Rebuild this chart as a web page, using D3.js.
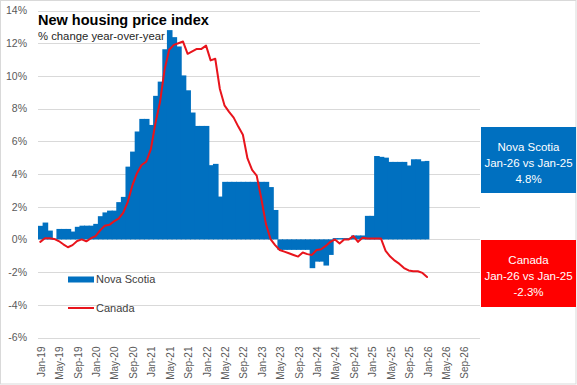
<!DOCTYPE html>
<html>
<head>
<meta charset="utf-8">
<script src="https://cdn.jsdelivr.net/npm/d3@7"></script>
<style>
  html, body { margin: 0; padding: 0; background: #fff; }
  svg { display: block; font-family: "Liberation Sans", Arial, sans-serif; }
</style>
</head>
<body>
<svg id="chart" width="577" height="385"></svg>
<script>
// ---- data ----
const months = [
  "Jan-19","Feb-19","Mar-19","Apr-19","May-19","Jun-19","Jul-19","Aug-19","Sep-19","Oct-19","Nov-19","Dec-19",
  "Jan-20","Feb-20","Mar-20","Apr-20","May-20","Jun-20","Jul-20","Aug-20","Sep-20","Oct-20","Nov-20","Dec-20",
  "Jan-21","Feb-21","Mar-21","Apr-21","May-21","Jun-21","Jul-21","Aug-21","Sep-21","Oct-21","Nov-21","Dec-21",
  "Jan-22","Feb-22","Mar-22","Apr-22","May-22","Jun-22","Jul-22","Aug-22","Sep-22","Oct-22","Nov-22","Dec-22",
  "Jan-23","Feb-23","Mar-23","Apr-23","May-23","Jun-23","Jul-23","Aug-23","Sep-23","Oct-23","Nov-23","Dec-23",
  "Jan-24","Feb-24","Mar-24","Apr-24","May-24","Jun-24","Jul-24","Aug-24","Sep-24","Oct-24","Nov-24","Dec-24",
  "Jan-25","Feb-25","Mar-25","Apr-25","May-25","Jun-25","Jul-25","Aug-25","Sep-25","Oct-25","Nov-25","Dec-25",
  "Jan-26","Feb-26","Mar-26","Apr-26","May-26","Jun-26","Jul-26","Aug-26","Sep-26","Oct-26","Nov-26","Dec-26"
];
const xTickLabels = ["Jan-19","May-19","Sep-19","Jan-20","May-20","Sep-20","Jan-21","May-21","Sep-21",
  "Jan-22","May-22","Sep-22","Jan-23","May-23","Sep-23","Jan-24","May-24","Sep-24","Jan-25","May-25",
  "Sep-25","Jan-26","May-26","Sep-26"];
const yTicks = [-6,-4,-2,0,2,4,6,8,10,12,14];

// Nova Scotia, Jan-19 .. Jan-26 (% y/y)
const novaScotia = [
  0.83,1.03,0.54,0.05,0.64,0.64,0.64,0.48,0.77,0.84,0.84,0.84,
  0.95,1.42,1.65,1.76,1.76,2.28,2.60,4.45,5.37,6.60,7.37,7.37,
  7.00,8.78,9.65,11.63,12.80,12.37,11.80,10.03,9.12,7.76,6.94,6.94,
  6.94,4.54,4.62,2.62,3.52,3.52,3.52,3.52,3.52,3.52,3.52,3.52,
  3.52,3.52,3.20,1.80,-0.64,-0.64,-0.64,-0.64,-0.64,-0.64,-0.64,-1.76,
  -1.36,-1.36,-1.60,-0.95,0.08,0.08,0.08,0.08,0.24,0.24,0.24,1.44,
  1.44,5.10,5.05,5.00,4.74,4.74,4.74,4.74,4.52,4.90,4.90,4.78,
  4.80
];
// Canada, Jan-19 .. Jan-26 (% y/y)
const canada = [
  -0.15,0.07,0.07,0.03,-0.10,-0.30,-0.48,-0.35,-0.10,0.00,-0.12,0.07,
  0.20,0.55,0.83,0.89,1.10,1.27,1.62,2.30,3.30,4.05,4.55,4.75,
  5.50,7.10,8.40,10.40,11.60,11.90,12.00,12.10,11.35,11.50,11.65,11.65,
  11.85,10.95,11.05,9.20,8.20,7.80,7.45,6.90,6.40,4.95,4.25,3.90,
  2.50,0.95,0.02,-0.35,-0.65,-0.75,-0.85,-0.95,-1.05,-0.80,-0.90,-0.95,
  -0.65,-0.60,-0.40,-0.15,0.00,-0.25,0.00,0.00,0.20,-0.15,0.10,0.05,
  0.05,0.05,0.05,-0.70,-1.05,-1.30,-1.50,-1.75,-1.90,-1.95,-1.95,-2.05,
  -2.30
];
const seriesNames = ["Nova Scotia","Canada"];
const title = "New housing price index";
const subtitle = "% change year-over-year";
const calloutNS = ["Nova Scotia","Jan-26 vs Jan-25","4.8%"];
const calloutCA = ["Canada","Jan-26 vs Jan-25","-2.3%"];

// ---- layout ----
const W = 577, H = 385;
const plot = {left: 38, right: 480, top: 10.5, bottom: 337.5};
const BLUE = "#0070C0", RED = "#FF0000", RED_LINE = "#E8141C";
const GRID = "#D9D9D9", AXIS_TEXT = "#595959";

const svg = d3.select("#chart");

svg.append("rect").attr("x",0.5).attr("y",0.5).attr("width",W-1.5).attr("height",H-1.5)
  .attr("fill","#fff").attr("stroke",GRID);

const x = d3.scaleBand().domain(months).range([plot.left, plot.right]).padding(0);
const y = d3.scaleLinear().domain([-6,14]).range([plot.bottom, plot.top]);

// gridlines
svg.append("g").selectAll("line").data(yTicks).join("line")
  .attr("x1",plot.left).attr("x2",plot.right)
  .attr("y1",d=>Math.round(y(d))+0.5).attr("y2",d=>Math.round(y(d))+0.5)
  .attr("stroke",GRID).attr("stroke-width",1);

// y axis labels
const yAxis = d3.axisLeft(y).tickValues(yTicks).tickSize(0).tickPadding(0)
  .tickFormat(d => d + "%");
const gy = svg.append("g").attr("transform",`translate(${27},0)`).call(yAxis);
gy.select(".domain").remove();
gy.selectAll("text").attr("fill",AXIS_TEXT).style("font-size","10.5px")
  .style("font-family","'Liberation Sans', Arial, sans-serif");

// x axis labels
const xAxis = d3.axisBottom(x).tickValues(xTickLabels).tickSize(0).tickPadding(0);
const gx = svg.append("g").attr("transform",`translate(0,${plot.bottom})`).call(xAxis);
gx.select(".domain").remove();
gx.selectAll("text")
  .attr("fill",AXIS_TEXT).style("font-size","10px")
  .style("font-family","'Liberation Sans', Arial, sans-serif")
  .attr("text-anchor","end")
  .attr("transform","rotate(-90)")
  .attr("x",-9).attr("y",1).attr("dy","0.35em");

// bars (slight overlap so adjacent months form solid blocks)
const nsData = novaScotia.map((v,i)=>({m:months[i], v, last: i === novaScotia.length-1}));
svg.append("g").selectAll("rect").data(nsData).join("rect")
  .attr("x",d=>x(d.m)).attr("width",d=>x.bandwidth()+(d.last?0:1))
  .attr("y",d=>y(Math.max(0,d.v))).attr("height",d=>Math.abs(y(d.v)-y(0)))
  .attr("fill",BLUE);

// line
const caData = canada.map((v,i)=>({m:months[i], v}));
const line = d3.line().x(d=>x(d.m)+x.bandwidth()/2).y(d=>y(d.v));
svg.append("path").datum(caData).attr("d",line)
  .attr("fill","none").attr("stroke",RED_LINE).attr("stroke-width",2)
  .attr("stroke-linejoin","round").attr("stroke-linecap","round");

// title
svg.append("text").attr("x",38).attr("y",25).text(title)
  .style("font-size","14.5px").style("font-weight","bold").attr("fill","#000");
svg.append("text").attr("x",38).attr("y",40).text(subtitle)
  .style("font-size","11.3px").attr("fill","#262626");

// legend
const lg = svg.append("g");
lg.append("rect").attr("x",68).attr("y",276.5).attr("width",26).attr("height",6).attr("fill",BLUE);
lg.append("text").attr("x",96).attr("y",279.5).attr("dy","0.35em").text(seriesNames[0])
  .style("font-size","11px").attr("fill","#404040");
lg.append("line").attr("x1",68).attr("x2",94).attr("y1",308).attr("y2",308)
  .attr("stroke",RED_LINE).attr("stroke-width",2);
lg.append("text").attr("x",96).attr("y",308).attr("dy","0.35em").text(seriesNames[1])
  .style("font-size","11px").attr("fill","#404040");

// callout boxes
function callout(y0, h, fill, lines) {
  const g = svg.append("g");
  g.append("rect").attr("x",481).attr("y",y0).attr("width",95).attr("height",h).attr("fill",fill);
  g.selectAll("text").data(lines).join("text")
    .attr("x",528.5).attr("y",(d,i)=>y0+19.5+i*16).attr("dy","0.35em")
    .attr("text-anchor","middle").attr("fill","#fff").style("font-size","11.5px").text(d=>d);
}
callout(127, 66, BLUE, calloutNS);
callout(240, 67, RED, calloutCA);
</script>
</body>
</html>
